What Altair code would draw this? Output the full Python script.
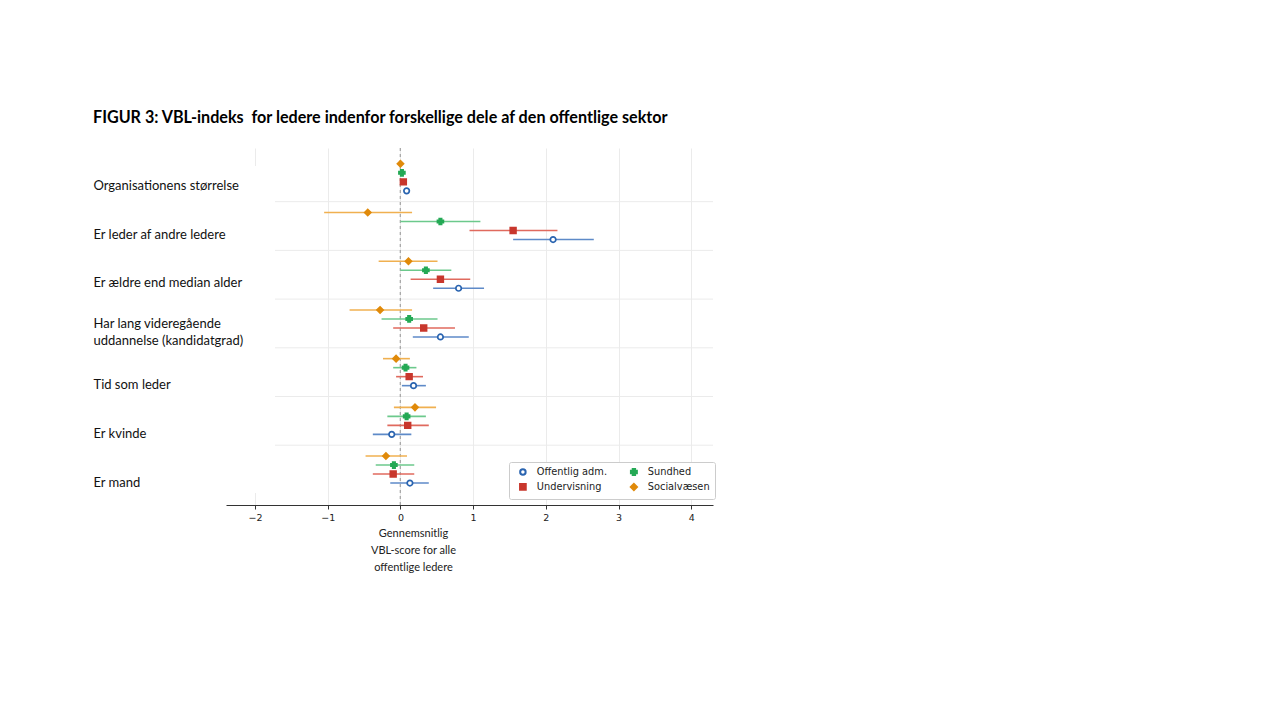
import altair as alt
import pandas as pd

# ---------------- data ----------------
categories = [
    "Organisationens størrelse",
    "Er leder af andre ledere",
    "Er ældre end median alder",
    "Har lang videregående uddannelse (kandidatgrad)",
    "Tid som leder",
    "Er kvinde",
    "Er mand",
]
# legend order (2 columns, filled column by column)
series = ["Offentlig adm.", "Undervisning", "Sundhed", "Socialvæsen"]
# top-to-bottom order inside each category
stack_order = ["Socialvæsen", "Sundhed", "Undervisning", "Offentlig adm."]

est_offentlig = [0.085, 2.10, 0.80, 0.55, 0.18, -0.12, 0.13]
lo_offentlig = [0.085, 1.55, 0.45, 0.17, 0.02, -0.38, -0.14]
hi_offentlig = [0.085, 2.66, 1.15, 0.94, 0.35, 0.15, 0.39]

est_sundhed = [0.02, 0.55, 0.35, 0.12, 0.07, 0.085, -0.09]
lo_sundhed = [0.02, 0.00, 0.00, -0.26, -0.10, -0.18, -0.34]
hi_sundhed = [0.02, 1.10, 0.70, 0.51, 0.22, 0.35, 0.19]

est_undervisning = [0.04, 1.55, 0.55, 0.32, 0.12, 0.10, -0.10]
lo_undervisning = [0.04, 0.95, 0.14, -0.10, -0.06, -0.18, -0.38]
hi_undervisning = [0.04, 2.16, 0.96, 0.75, 0.31, 0.39, 0.19]

est_social = [0.00, -0.45, 0.11, -0.28, -0.06, 0.20, -0.20]
lo_social = [0.00, -1.05, -0.30, -0.70, -0.24, -0.09, -0.48]
hi_social = [0.00, 0.16, 0.51, 0.16, 0.13, 0.49, 0.09]

x_ticks = [-2, -1, 0, 1, 2, 3, 4]

# styles, in the order of `series`
colors = ["#2a64b0", "#c8372d", "#24a955", "#e08a0a"]
fills = ["white", "#c8372d", "#24a955", "#e08a0a"]
shapes = ["circle", "square", "cross", "diamond"]
sizes = [30, 38, 42, 72]
ci_colors = ["#5e8ac8", "#e06a5e", "#6cc98c", "#f0b050"]

rows = []
for name, est, lo, hi in [
    ("Offentlig adm.", est_offentlig, lo_offentlig, hi_offentlig),
    ("Sundhed", est_sundhed, lo_sundhed, hi_sundhed),
    ("Undervisning", est_undervisning, lo_undervisning, hi_undervisning),
    ("Socialvæsen", est_social, lo_social, hi_social),
]:
    for c, e, l, h in zip(categories, est, lo, hi):
        rows.append({"cat": c, "series": name, "est": e, "lo": l, "hi": h})
df = pd.DataFrame(rows)
sep_df = pd.DataFrame({"cat": categories[1:]})

# ---------------- layout ----------------
W, H = 487, 357

xscale = alt.Scale(domain=[-2.4, 4.3], nice=False, zero=False)
yscale = alt.Scale(domain=categories, paddingInner=0, paddingOuter=0.165, align=0.31)
yoff_scale = alt.Scale(domain=stack_order, paddingInner=0, paddingOuter=0.705)

x_axis = alt.Axis(
    values=x_ticks, grid=True, gridColor="#ebebeb", domainColor="#333333",
    tickColor="#333333", tickSize=4, labelFont="DejaVu Sans", labelFontSize=9.5,
    labelColor="#222222", labelPadding=3,
    title=["Gennemsnitlig", "VBL-score for alle", "offentlige ledere"],
    titleX=187, titleY=22, titleAlign="center", titleBaseline="top",
    titleFont="Lato", titleFontSize=11, titleFontWeight="normal",
    titleColor="#222222", titleLineHeight=17,
)
label_expr = (
    "datum.label == 'Har lang videregående uddannelse (kandidatgrad)' ? "
    "['Har lang videregående', 'uddannelse (kandidatgrad)'] : datum.label"
)
label_offset = {
    "condition": [
        {"test": "datum.value == 'Har lang videregående uddannelse (kandidatgrad)'", "value": 0.5},
        {"test": "datum.value == 'Tid som leder' || datum.value == 'Er kvinde' || datum.value == 'Er mand'", "value": 13},
    ],
    "value": 8.5,
}
y_axis = alt.Axis(
    domain=False, ticks=False, grid=False, labelAlign="left", labelPadding=133,
    labelFont="Lato", labelFontSize=13, labelColor="#111111", labelLimit=0,
    labelOffset=label_offset, labelBaseline="middle", labelLineHeight=17,
    labelExpr=label_expr, title=None, zindex=2,
)

base = alt.Chart(df)

mask = alt.Chart(sep_df).mark_rect(color="white").encode(
    x=alt.value(0), x2=alt.value(49), y=alt.value(18), y2=alt.value(345)
)

separators = alt.Chart(sep_df).mark_rule(color="#ebebeb", strokeWidth=1).encode(
    y=alt.Y("cat:N", bandPosition=0, scale=yscale, axis=y_axis),
    x=alt.value(49),
    x2=alt.value(W),
)

zero = alt.Chart(sep_df).mark_rule(color="#aaaaaa", strokeDash=[3, 3], strokeWidth=1).encode(
    x=alt.datum(0, scale=xscale, axis=x_axis)
)

# one confidence-interval layer per series (plain colours, no legend)
ci_layers = []
for name, col in zip(series, ci_colors):
    ci_layers.append(
        base.transform_filter(alt.datum.series == name)
        .mark_rule(strokeWidth=1.6, color=col)
        .encode(
            x=alt.X("lo:Q", scale=xscale, axis=x_axis),
            x2="hi:Q",
            y=alt.Y("cat:N", scale=yscale, axis=y_axis),
            yOffset=alt.YOffset("series:N", scale=yoff_scale),
        )
    )

leg = alt.Legend(title=None)
points = base.mark_point(filled=True, strokeWidth=1.7, opacity=1).encode(
    x=alt.X("est:Q", scale=xscale, axis=x_axis),
    y=alt.Y("cat:N", scale=yscale, axis=y_axis),
    yOffset=alt.YOffset("series:N", scale=yoff_scale),
    stroke=alt.Stroke("series:N", scale=alt.Scale(domain=series, range=colors), legend=leg),
    fill=alt.Fill("series:N", scale=alt.Scale(domain=series, range=fills), legend=leg),
    shape=alt.Shape("series:N", scale=alt.Scale(domain=series, range=shapes), legend=leg),
    size=alt.Size("series:N", scale=alt.Scale(domain=series, range=sizes), legend=leg),
)

chart = alt.layer(mask, separators, zero, *ci_layers, points).properties(
    width=W,
    height=H,
    padding={"left": 93, "top": 110, "right": 10, "bottom": 10},
    title=alt.TitleParams(
        "FIGUR 3: VBL-indeks\u00a0 for ledere indenfor forskellige dele af den offentlige sektor",
        anchor="start", frame="bounds", font="Lato", fontSize=16.15, fontWeight="bold",
        color="#000000", offset=21,
    ),
).configure_view(stroke=None).configure_legend(
    orient="none", legendX=283, legendY=314, columns=2, fillColor="white",
    strokeColor="#cccccc", padding=5, cornerRadius=2, labelFont="DejaVu Sans",
    labelFontSize=9.8, labelColor="#222222", columnPadding=18, rowPadding=0,
    symbolStrokeWidth=2, labelOffset=9, symbolOffset=4,
)

chart.save("out.html", embed_options={"renderer": "svg", "actions": False})
